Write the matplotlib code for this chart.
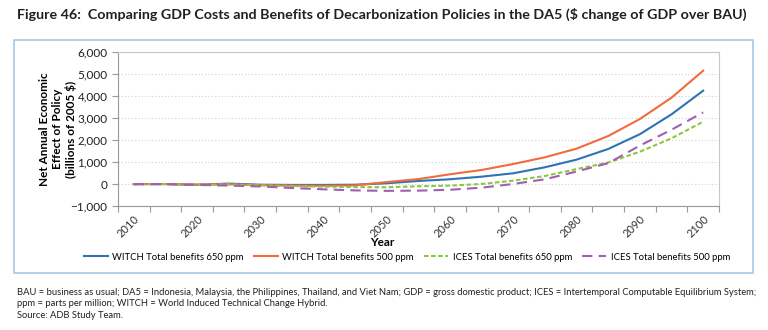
import matplotlib.pyplot as plt
from matplotlib.patches import Rectangle
from matplotlib.ticker import FuncFormatter
import numpy as np

years = list(range(2010, 2101, 5))
witch_650 = [10, 10, -20, 30, -20, -30, -30, -20, 45, 150, 227, 345, 500, 773, 1120, 1605, 2278, 3180, 4256]
witch_500 = [10, 10, -20, 0, -40, -60, -70, -50, 100, 235, 455, 650, 923, 1227, 1620, 2195, 2968, 3937, 5164]
ices_650 = [0, 10, -20, -10, -50, -80, -110, -130, -136, -92, -64, 14, 164, 377, 690, 990, 1480, 2090, 2845]
ices_500 = [0, 5, -30, -60, -100, -170, -230, -280, -300, -290, -250, -155, 14, 227, 580, 960, 1760, 2480, 3270]

series = [
    ('WITCH Total benefits 650 ppm', witch_650, '#2c74b5', None),
    ('WITCH Total benefits 500 ppm', witch_500, '#f26a3d', None),
    ('ICES Total benefits 650 ppm', ices_650, '#8dc63f', (2.2, 1.2)),
    ('ICES Total benefits 500 ppm', ices_500, '#9e5fb4', (5, 3)),
]

title = ('Figure 46:  Comparing GDP Costs and Benefits of Decarbonization '
         'Policies in the DA5 ($ change of GDP over BAU)')
notes = [
    'BAU = business as usual; DA5 = Indonesia, Malaysia, the Philippines, Thailand, and Viet Nam; '
    'GDP = gross domestic product; ICES = Intertemporal Computable Equilibrium System;',
    'ppm = parts per million; WITCH = World Induced Technical Change Hybrid.',
    'Source: ADB Study Team.',
]

plt.rcParams['font.family'] = ['Lato', 'DejaVu Sans']

fig = plt.figure(figsize=(7.68, 3.3), dpi=100)
renderer = fig.canvas.get_renderer()


def fit_text(t, width_px):
    # shrink a text until it spans the given width in pixels
    w = t.get_window_extent(renderer).width
    t.set_fontsize(t.get_fontsize() * width_px / w)


# outer frame around the chart
fig.patches.append(Rectangle((0.018, 0.173), 0.962, 0.706, transform=fig.transFigure,
                             fill=False, edgecolor='#a9c9e4', linewidth=1.2))

t = fig.text(0.022, 0.955, title, fontsize=11, fontweight='bold', color='#231f20',
             ha='left', va='center')
fit_text(t, 731)

ax = fig.add_axes([0.1536, 0.375, 0.7826, 0.4665])
x = np.arange(len(years))
for name, vals, col, dash in series:
    line, = ax.plot(x, vals, color=col, linewidth=1.5, label=name)
    if dash is not None:
        line.set_dashes(dash)

ax.set_xlim(-0.5, len(years) - 0.5)
ax.set_ylim(-1000, 6000)
ax.set_yticks(range(-1000, 6001, 1000))
ax.yaxis.set_major_formatter(FuncFormatter(lambda v, p: '{:,.0f}'.format(v).replace('-', '\u2212')))
ax.grid(axis='y', color='#d0d0d0', linestyle=(0, (1, 2)), linewidth=0.8)
ax.set_axisbelow(True)

# ticks between categories, labels every other category
ax.set_xticks(np.arange(-0.5, len(years), 1))
ax.set_xticklabels([])
ax.set_xticks(x[::2], minor=True)
ax.set_xticklabels([str(y) for y in years[::2]], minor=True, rotation=45,
                   ha='right', rotation_mode='anchor', fontsize=8, color='#333333')
ax.tick_params(axis='x', which='minor', length=0, pad=5)
ax.tick_params(axis='x', which='major', length=4, color='#999999')
ax.tick_params(axis='y', length=4, color='#999999', labelsize=8.5, labelcolor='#231f20')

for side in ['top', 'right']:
    ax.spines[side].set_color('#c8c8c8')
ax.spines['left'].set_color('#999999')
ax.spines['bottom'].set_color('#999999')

ax.set_xlabel('Year', fontsize=8.5, fontweight='bold')
ax.xaxis.set_label_coords(0.44, -0.2)
ax.set_ylabel('Net Annual Economic\nEffect of Policy\n(billions of 2005 $)', fontsize=8.5,
              fontweight='bold', linespacing=1.2)
ax.yaxis.set_label_coords(-0.068, 0.5)

fig.legend(loc='center', bbox_to_anchor=(0.53, 0.221), ncol=4, frameon=False,
           fontsize=6.8, handlelength=2.5, columnspacing=1.1, handletextpad=0.5)

for i, line in enumerate(notes):
    t = fig.text(0.022, 0.115 - i * 0.036, line, fontsize=7, color='#231f20',
                 ha='left', va='center')
    if i == 0:
        fit_text(t, 735)
        note_size = t.get_fontsize()
    else:
        t.set_fontsize(note_size)

fig.savefig('out.png', dpi=100)
